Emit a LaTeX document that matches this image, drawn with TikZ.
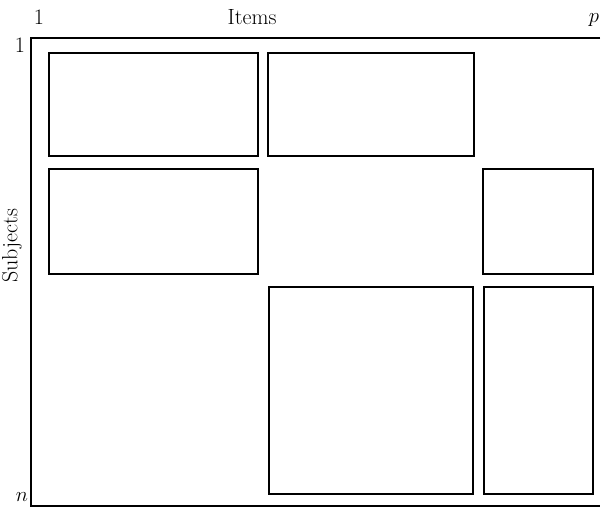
\documentclass[tikz,border=0pt]{standalone}
\begin{document}
\begin{tikzpicture}[x=1pt,y=-1pt,
  blk/.style={draw,line width=1.1pt},
  frame/.style={line width=1.1pt},
  lbl/.style={inner sep=0pt,font=\fontsize{22}{24}\selectfont}]
\useasboundingbox (0,0) rectangle (601,507);
\coordinate (tr) at (600,38);
\coordinate (tl) at (31,38);
\coordinate (bl) at (31,506);
\coordinate (br) at (600,506);
\draw[frame] (tr) -- (tl) -- (bl) -- (br);
\draw[blk] (49,53) rectangle (258,156);
\draw[blk] (268,53) rectangle (474,156);
\draw[blk] (49,169) rectangle (258,274);
\draw[blk] (483,169) rectangle (593,274);
\draw[blk] (269,287) rectangle (473,494);
\draw[blk] (484,287) rectangle (593,494);
\node[lbl] (one1) at (39,17) {1};
\node[lbl] (items) at (252,17) {Items};
\node[lbl] (p) at (594,20) {$p$};
\node[lbl] (one2) at (20,45) {1};
\node[lbl,rotate=90] (subj) at (12,246) {Subjects};
\node[lbl,anchor=south] (n) at (22,502) {$n$};
\end{tikzpicture}
\end{document}
